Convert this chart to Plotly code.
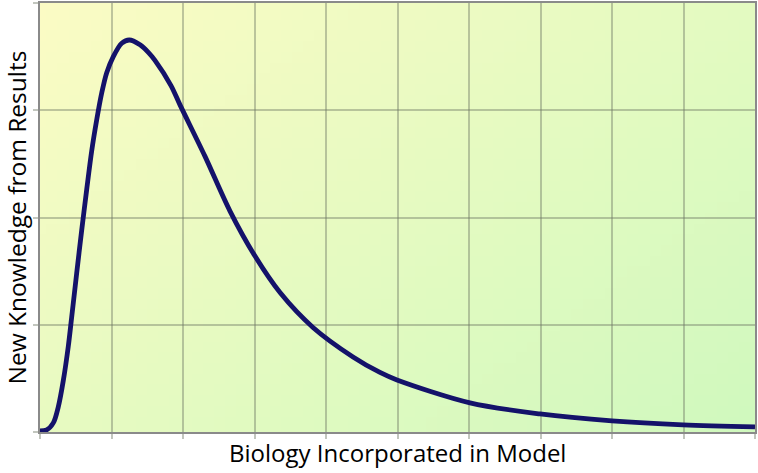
import base64
import struct
import zlib

import plotly.graph_objects as go

# Curve values (x in grid units 0..10, y in grid units 0..4)
curve_x = [0.0, 0.094, 0.186, 0.256, 0.326, 0.396, 0.443, 0.513, 0.583, 0.653,
           0.723, 0.793, 0.863, 0.933, 1.025, 1.143, 1.249, 1.399, 1.515, 1.608,
           1.832, 1.958, 2.308, 2.657, 3.007, 3.357, 3.818, 4.378, 4.755, 4.993,
           6.014, 6.993, 8.0, 8.993, 10.0]
curve_y = [0.01, 0.02, 0.085, 0.235, 0.48, 0.80, 1.07, 1.48, 1.88, 2.26,
           2.62, 2.91, 3.16, 3.35, 3.50, 3.625, 3.655, 3.61, 3.54, 3.465,
           3.23, 3.05, 2.57, 2.06, 1.64, 1.30, 0.975, 0.70, 0.555, 0.485,
           0.272, 0.168, 0.103, 0.066, 0.047]

x_title = "Biology Incorporated in Model"
y_title = "New Knowledge from Results"

# Background: diagonal gradient image (yellow top-left -> green bottom-right)
c0 = (251, 251, 196)
c1 = (208, 249, 190)
W, H = 64, 40
rows = b""
for j in range(H):
    row = b"\x00"
    for i in range(W):
        t = 0.55 * i / (W - 1) + 0.45 * j / (H - 1)
        row += bytes(int(round(a + (b - a) * t)) for a, b in zip(c0, c1))
    rows += row


def chunk(tag, data):
    c = struct.pack(">I", len(data)) + tag + data
    return c + struct.pack(">I", zlib.crc32(tag + data) & 0xffffffff)


png = b"\x89PNG\r\n\x1a\n" + chunk(b"IHDR", struct.pack(">IIBBBBB", W, H, 8, 2, 0, 0, 0)) \
    + chunk(b"IDAT", zlib.compress(rows)) + chunk(b"IEND", b"")
bg_src = "data:image/png;base64," + base64.b64encode(png).decode()

fig = go.Figure()
fig.add_trace(go.Scatter(
    x=curve_x, y=curve_y, mode="lines",
    line=dict(color="#14126a", width=4.8, shape="spline", smoothing=0.9),
    hoverinfo="skip"))

grid = "rgba(110,120,100,0.42)"
axis_common = dict(showticklabels=False, showgrid=True, gridcolor=grid, gridwidth=1.5,
                   ticks="outside", ticklen=5, tickcolor=grid, tickwidth=1.5,
                   showline=True, linecolor="#8a8a8a", linewidth=2, mirror=True,
                   zeroline=False, automargin=False)
fig.update_layout(
    width=758, height=473,
    margin=dict(l=40, r=3, t=3, b=41),
    paper_bgcolor="white", plot_bgcolor="rgba(0,0,0,0)",
    showlegend=False,
    font=dict(family="Open Sans, sans-serif", color="black"),
    images=[dict(source=bg_src, xref="paper", yref="paper", x=0, y=1,
                 sizex=1, sizey=1, sizing="stretch", layer="below",
                 xanchor="left", yanchor="top")],
    xaxis=dict(range=[0, 10], dtick=1, tick0=0, **axis_common),
    yaxis=dict(range=[0, 4], dtick=1, tick0=0, **axis_common),
    annotations=[
        dict(text=x_title, xref="paper", yref="paper", x=0.5, y=-0.047,
             xanchor="center", yanchor="middle", showarrow=False,
             font=dict(size=24)),
        dict(text=y_title, xref="paper", yref="paper", x=-0.0322, y=0.5,
             xanchor="center", yanchor="middle", showarrow=False, textangle=-90,
             font=dict(size=24.5)),
    ],
)
fig.write_html("out.html", config={"displayModeBar": False},
               post_script="document.body.style.margin='0';document.body.style.overflow='hidden';")
